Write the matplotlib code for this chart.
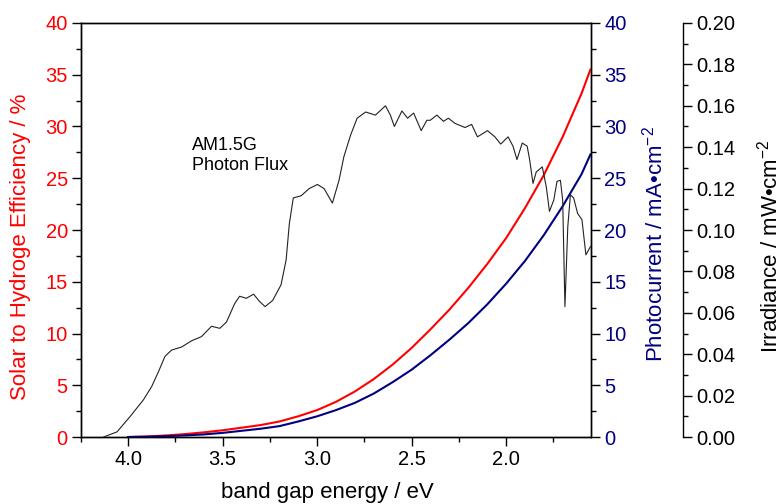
import matplotlib
matplotlib.use('Agg')
import matplotlib.pyplot as plt
from matplotlib.ticker import MultipleLocator, FormatStrFormatter

plt.rcParams['font.family'] = ['Liberation Sans', 'DejaVu Sans']
plt.rcParams['mathtext.fontset'] = 'custom'
plt.rcParams['mathtext.rm'] = 'Liberation Sans'
plt.rcParams['mathtext.it'] = 'Liberation Sans'

# AM1.5G photon flux (irradiance axis)
flux_energy = [4.130, 4.059, 3.989, 3.919, 3.875, 3.840, 3.805, 3.770, 3.717, 3.664,
               3.612, 3.559, 3.515, 3.480, 3.436, 3.410, 3.375, 3.336, 3.305, 3.275,
               3.235, 3.191, 3.164, 3.147, 3.126, 3.085, 3.042, 2.998, 2.963, 2.919,
               2.884, 2.858, 2.822, 2.788, 2.743, 2.691, 2.638, 2.612, 2.591, 2.551,
               2.521, 2.489, 2.449, 2.419, 2.401, 2.366, 2.331, 2.305, 2.270, 2.217,
               2.182, 2.151, 2.098, 2.059, 2.028, 1.989, 1.963, 1.942, 1.914, 1.888,
               1.875, 1.857, 1.840, 1.808, 1.787, 1.770, 1.747, 1.730, 1.712, 1.700,
               1.688, 1.673, 1.659, 1.642, 1.621, 1.598, 1.577, 1.553]
flux_irr = [0.0000, 0.0025, 0.0100, 0.0180, 0.0245, 0.0315, 0.0390, 0.0420, 0.0435, 0.0465,
            0.0485, 0.0535, 0.0525, 0.0555, 0.0645, 0.0680, 0.0670, 0.0690, 0.0655, 0.0630,
            0.0660, 0.0735, 0.0855, 0.1030, 0.1155, 0.1165, 0.1200, 0.1220, 0.1200, 0.1130,
            0.1240, 0.1355, 0.1460, 0.1540, 0.1570, 0.1555, 0.1600, 0.1555, 0.1500, 0.1575,
            0.1540, 0.1565, 0.1480, 0.1530, 0.1530, 0.1555, 0.1525, 0.1540, 0.1515, 0.1495,
            0.1510, 0.1450, 0.1480, 0.1450, 0.1415, 0.1450, 0.1405, 0.1340, 0.1420, 0.1405,
            0.1340, 0.1225, 0.1280, 0.1305, 0.1210, 0.1090, 0.1145, 0.1235, 0.1240, 0.1145,
            0.0630, 0.1015, 0.1170, 0.1155, 0.1080, 0.1050, 0.0880, 0.0920]

# solar to hydrogen efficiency (%) and photocurrent (mA cm-2)
gap_energy = [4.00, 3.90, 3.80, 3.70, 3.60, 3.50, 3.40, 3.30, 3.20, 3.10,
              3.00, 2.90, 2.80, 2.70, 2.60, 2.50, 2.40, 2.30, 2.20, 2.10,
              2.00, 1.90, 1.80, 1.70, 1.60, 1.553]
sth = [0.0, 0.05, 0.15, 0.28, 0.45, 0.65, 0.9, 1.15, 1.5, 2.0,
       2.6, 3.4, 4.4, 5.6, 7.0, 8.6, 10.4, 12.3, 14.4, 16.7,
       19.2, 22.1, 25.3, 29.0, 33.2, 35.5]
photocurrent = [0.0, 0.03, 0.08, 0.15, 0.25, 0.4, 0.6, 0.8, 1.05, 1.5,
                2.0, 2.6, 3.3, 4.2, 5.3, 6.5, 7.9, 9.4, 11.0, 12.8,
                14.8, 17.0, 19.5, 22.3, 25.4, 27.3]

red = '#ff0000'
navy = '#000080'
tick_fs = 14.5
label_fs = 16

fig = plt.figure(figsize=(7.83, 5.04), dpi=100)
ax = fig.add_axes([0.1034, 0.1329, 0.6514, 0.8215])
ax2 = ax.twinx()
ax3 = ax.twinx()

ax.plot(gap_energy, sth, color=red, lw=1.5, zorder=3)
ax2.plot(gap_energy, photocurrent, color=navy, lw=1.5, zorder=3)
ax3.plot(flux_energy, flux_irr, color='#222222', lw=0.8)

ax.set_xlim(4.25, 1.55)
ax.set_ylim(0, 40)
ax2.set_ylim(0, 40)
ax3.set_ylim(0, 0.20)

ax.xaxis.set_major_locator(MultipleLocator(0.5))
ax.xaxis.set_minor_locator(MultipleLocator(0.25))
ax.xaxis.set_major_formatter(FormatStrFormatter('%.1f'))
for a in (ax, ax2):
    a.yaxis.set_major_locator(MultipleLocator(5))
    a.yaxis.set_minor_locator(MultipleLocator(2.5))
ax3.yaxis.set_major_locator(MultipleLocator(0.02))
ax3.yaxis.set_minor_locator(MultipleLocator(0.01))
ax3.yaxis.set_major_formatter(FormatStrFormatter('%.2f'))

for a in (ax, ax2, ax3):
    a.tick_params(which='major', direction='out', length=6.5, width=1.0, labelsize=tick_fs, pad=3)
    a.tick_params(which='minor', direction='out', length=3.5, width=1.0)
    for s in a.spines.values():
        s.set_linewidth(1.0)
ax.tick_params(axis='x', top=False)
ax.tick_params(axis='y', labelcolor=red)
ax2.tick_params(axis='y', labelcolor=navy)

ax3.spines['right'].set_position(('axes', 1.18))
for side in ('top', 'bottom', 'left'):
    ax3.spines[side].set_visible(False)
ax3.patch.set_visible(False)

ax.set_xlabel('band gap energy / eV', fontsize=label_fs)
ax.xaxis.set_label_coords(0.483, -0.108)
ax.set_ylabel('Solar to Hydroge Efficiency / %', fontsize=label_fs, color=red)
ax.yaxis.set_label_coords(-0.098, 0.46)
ax2.set_ylabel(r'Photocurrent / mA•cm$^{-2}$', fontsize=label_fs, color=navy)
ax2.yaxis.set_label_coords(1.1, 0.465)
ax3.set_ylabel(r'Irradiance / mW•cm$^{-2}$', fontsize=label_fs, color='black')
ax3.yaxis.set_label_coords(1.325, 0.46)

ax.text(0.218, 0.725, 'AM1.5G\nPhoton Flux', transform=ax.transAxes,
        fontsize=13, va='top', ha='left', linespacing=1.25)

fig.savefig('out.png', dpi=100)
